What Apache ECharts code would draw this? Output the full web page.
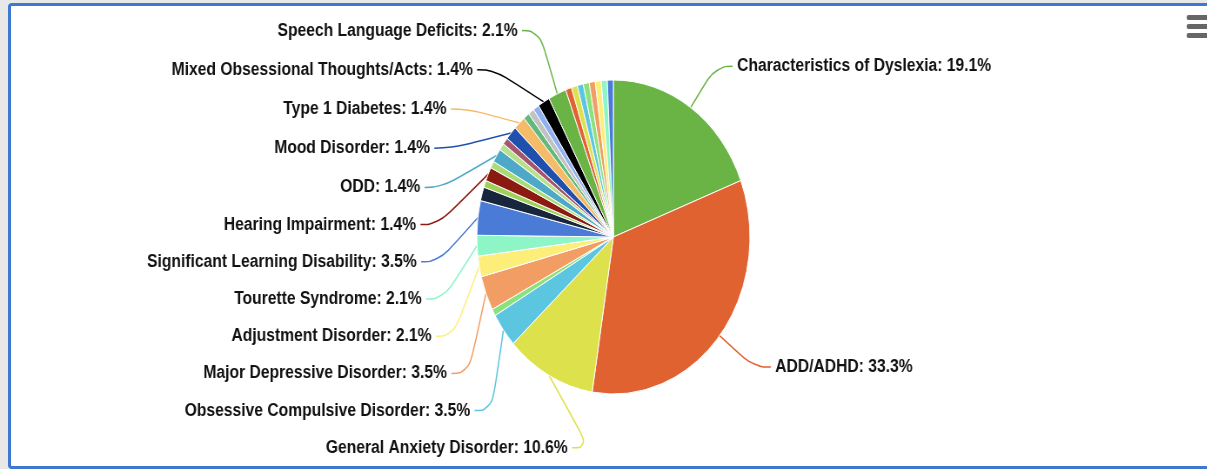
<!DOCTYPE html>
<html>
<head>
<meta charset="utf-8">
<script src="https://cdn.jsdelivr.net/npm/echarts@6/dist/echarts.min.js"></script>
<style>
    html, body { margin: 0; padding: 0; background: #e8e8e8; overflow: hidden; }
    #frame {
        position: absolute; left: 8px; top: 3px; width: 1230px; height: 460px;
        border: 3px solid #3f78d0; border-radius: 4px; background: #fff;
    }
    /* the source picture is squeezed horizontally, so the chart is drawn wider and scaled */
    #chart {
        position: absolute; left: 0; top: 0; width: 1387px; height: 469px;
        transform: scaleX(0.87); transform-origin: 0 0;
    }
</style>
</head>
<body>
<div id="frame"></div>
<div id="chart"></div>
<script>
// slices clockwise from 12 o'clock; '' = slice whose label is hidden in the picture
var names = [
    'Characteristics of Dyslexia', 'ADD/ADHD', 'General Anxiety Disorder',
    'Obsessive Compulsive Disorder', '', 'Major Depressive Disorder',
    'Adjustment Disorder', 'Tourette Syndrome', 'Significant Learning Disability',
    '', '', 'Hearing Impairment', '', 'ODD', '', '', 'Mood Disorder',
    'Type 1 Diabetes', '', '', '', 'Mixed Obsessional Thoughts/Acts',
    'Speech Language Deficits', '', '', '', '', '', '', '', ''
];
var counts = [27, 47, 15, 5, 1, 5, 3, 3, 5, 2, 1, 2, 1, 2, 1, 1, 2, 2, 1, 1, 1, 2, 3, 1, 1, 1, 1, 1, 1, 1, 1];

var palette = [
    '#6ab445', '#e06231', '#dde14b', '#5cc6e0', '#8be27c', '#f29d63', '#fdee79',
    '#8ef5c6', '#4a7bd6', '#18263d', '#9fd05a', '#8b1b10', '#a9dc76', '#4ea9c8',
    '#b6e08a', '#a5566f', '#2050ae', '#f4bb68', '#62b97a', '#c2c2c2', '#90b1f1',
    '#000000', '#6ab445', '#e06231', '#dde14b', '#5cc6e0', '#8be27c', '#f29d63',
    '#fdee79', '#8ef5c6', '#4a7bd6'
];

var total = counts.reduce(function (a, b) { return a + b; }, 0);

var pieData = counts.map(function (v, i) {
    var item = { name: names[i], value: v };
    if (!names[i]) {
        item.label = { show: false };
        item.labelLine = { show: false };
    }
    return item;
});

var chart = echarts.init(document.getElementById('chart'));
chart.setOption({
    color: palette,
    animation: false,
    graphic: [0, 9, 18].map(function (dy) {
        return {
            type: 'rect',
            shape: { x: 1364, y: 15 + dy, width: 34, height: 5, r: 2 },
            style: { fill: '#666' }
        };
    }),
    series: [{
        type: 'pie',
        top: 11,
        bottom: 0,
        center: [705, 226],
        radius: 157,
        startAngle: 90,
        data: pieData,
        itemStyle: { borderColor: '#fff', borderWidth: 1 },
        label: {
            fontFamily: 'Liberation Sans, Arial, sans-serif',
            fontSize: 18,
            fontWeight: 'bold',
            color: '#111',
            lineHeight: 37.2,
            formatter: function (p) {
                return p.name + ': ' + (p.value / total * 100).toFixed(1) + '%';
            }
        },
        labelLine: {
            length: 50,
            length2: 20,
            smooth: 0.5,
            lineStyle: { width: 1.5 }
        },
        // the bottom label sits almost under the centre in the picture
        labelLayout: function (p) {
            if (p.dataIndex !== 2 || !p.labelLinePoints) return;
            var shift = 70;
            var pts = p.labelLinePoints;
            pts[1][0] += shift;
            pts[2][0] += shift;
            return { dx: shift, labelLinePoints: pts };
        }
    }]
});
</script>
</body>
</html>
